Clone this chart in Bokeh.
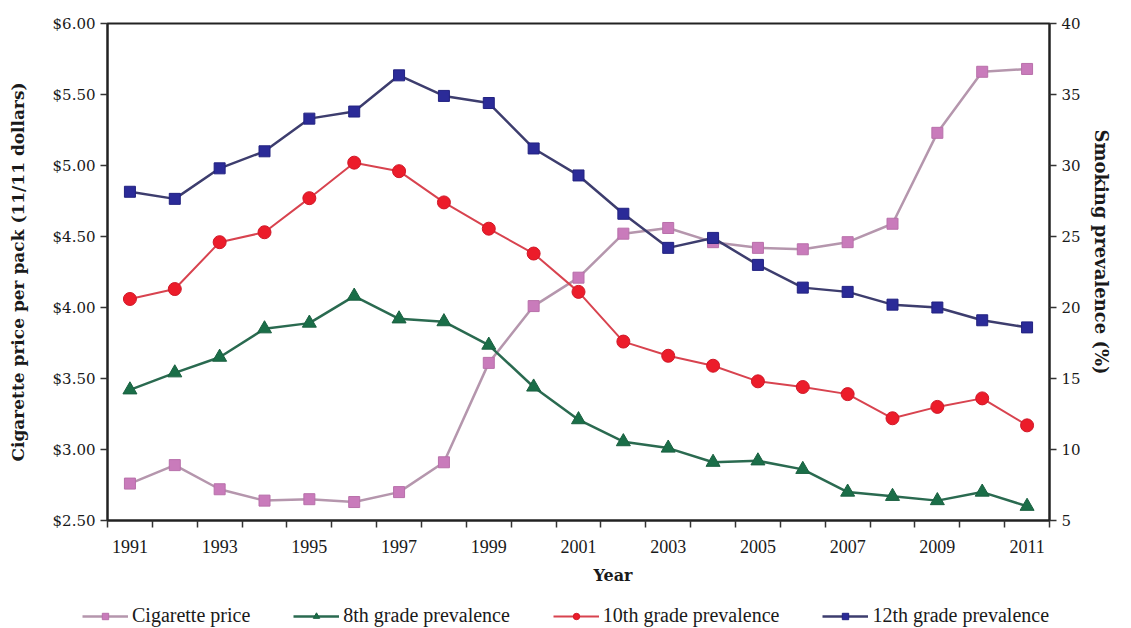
import math
from bokeh.plotting import figure
from bokeh.models import (Range1d, LinearAxis, FixedTicker, NumeralTickFormatter,
                          Legend, LegendItem, Title)
from bokeh.embed import file_html
from bokeh.resources import INLINE

years = list(range(1991, 2012))
price = [2.76, 2.89, 2.72, 2.64, 2.65, 2.63, 2.70, 2.91, 3.61, 4.01, 4.21,
         4.52, 4.56, 4.46, 4.42, 4.41, 4.46, 4.59, 5.23, 5.66, 5.68]
grade8 = [14.2, 15.4, 16.5, 18.5, 18.9, 20.8, 19.2, 19.0, 17.35, 14.4, 12.1,
          10.55, 10.1, 9.1, 9.2, 8.6, 7.0, 6.7, 6.4, 7.0, 6.0]
grade10 = [20.6, 21.3, 24.6, 25.3, 27.7, 30.2, 29.6, 27.4, 25.55, 23.8, 21.1,
           17.6, 16.6, 15.9, 14.8, 14.4, 13.9, 12.2, 13.0, 13.6, 11.7]
grade12 = [28.15, 27.65, 29.8, 31.0, 33.3, 33.8, 36.35, 34.9, 34.4, 31.2, 29.3,
           26.6, 24.2, 24.9, 23.0, 21.4, 21.1, 20.2, 20.0, 19.1, 18.6]
year_ticks = list(range(1991, 2012, 2))
price_ticks = [2.5, 3.0, 3.5, 4.0, 4.5, 5.0, 5.5, 6.0]
prev_ticks = [5, 10, 15, 20, 25, 30, 35, 40]
series_names = ["Cigarette price", "8th grade prevalence",
                "10th grade prevalence", "12th grade prevalence"]

SERIF = "DejaVu Serif"
LEG_FONT = "Liberation Serif"

STYLES = [
    dict(line_color="#b596ad", line_width=2.5, marker="square", size=11,
         fill_color="#c97bbb", mline="#b870aa"),
    dict(line_color="#2a6a50", line_width=2.5, marker="triangle", size=14,
         fill_color="#1a6e48", mline="#1a6040"),
    dict(line_color="#d8434f", line_width=2, marker="circle", size=13,
         fill_color="#ec1c2a", mline="#d01828"),
    dict(line_color="#3d3d6e", line_width=2.5, marker="square", size=11,
         fill_color="#2b2b98", mline="#222280"),
]

W = 1120
p = figure(width=W, height=592, output_backend="svg", toolbar_location=None,
           x_range=Range1d(1990.5, 2011.5), y_range=Range1d(2.5, 6.0),
           min_border_left=107, min_border_right=65, min_border_top=23,
           min_border_bottom=71,
           y_axis_label="Cigarette price per pack (11/11 dollars)")
p.extra_y_ranges = {"prev": Range1d(5, 40)}
p.grid.visible = False
p.outline_line_color = "#222222"
p.outline_line_width = 2

ax = p.xaxis[0]
ax.ticker = FixedTicker(ticks=year_ticks,
                        minor_ticks=[y - 0.5 for y in years] + [2011.5])
ax.major_tick_out = 0
ax.major_tick_in = 0
ax.minor_tick_out = 7
ax.minor_tick_in = 0
ax.minor_tick_line_color = "#333333"
ax.minor_tick_line_width = 1.5

ay = p.yaxis[0]
ay.ticker = FixedTicker(ticks=price_ticks)
ay.formatter = NumeralTickFormatter(format="$0.00")

ry = LinearAxis(y_range_name="prev", ticker=FixedTicker(ticks=prev_ticks))
p.add_layout(ry, "right")

for a in [ax, ay, ry]:
    a.axis_line_color = "#222222"
    a.axis_line_width = 2
    a.major_tick_line_color = "#333333"
    a.major_tick_line_width = 1.5
    a.major_label_text_font = SERIF
    a.major_label_text_font_size = "15px"
    a.major_label_text_color = "#1a1a1a"
    a.axis_label_text_font = SERIF
    a.axis_label_text_font_style = "bold"
    a.axis_label_text_color = "#1a1a1a"
for a in [ay, ry]:
    a.major_tick_out = 7
    a.major_tick_in = 0
ay.axis_label_text_font_size = "17px"
ay.major_label_standoff = 5
ry.major_label_standoff = 5
ay.axis_label_standoff = 22
ax.major_label_text_font = LEG_FONT
ax.major_label_text_font_size = "18px"
ax.major_label_standoff = 12

year_title = Title(text="Year", align="left", offset=486, standoff=16,
                   text_font=SERIF, text_font_style="bold",
                   text_font_size="16px", text_color="#1a1a1a")
p.add_layout(year_title, "below")

right_title = Title(text="Smoking prevalence (%)", align="left", offset=106,
                    standoff=14, text_font=SERIF, text_font_style="bold",
                    text_font_size="18px", text_color="#1a1a1a")
p.add_layout(right_title, "right")

data = [price, grade8, grade10, grade12]
for i, (vals, st) in enumerate(zip(data, STYLES)):
    kw = {} if i == 0 else {"y_range_name": "prev"}
    p.line(years, vals, line_color=st["line_color"], line_width=st["line_width"], **kw)
    p.scatter(years, vals, marker=st["marker"], size=st["size"],
              fill_color=st["fill_color"], line_color=st["mline"], **kw)

# legend strip below the chart (series drawn outside its view, only the legend shows)
leg = figure(width=W, height=36, output_backend="svg", toolbar_location=None,
             x_range=Range1d(0, 1), y_range=Range1d(0, 1),
             x_axis_location=None, y_axis_location=None,
             min_border_left=0, min_border_right=0, min_border_top=0,
             min_border_bottom=0, outline_line_color=None)
leg.grid.visible = False
items = []
for name, vals, st in zip(series_names, data, STYLES):
    lr = leg.line(years, vals, line_color=st["line_color"], line_width=st["line_width"])
    sr = leg.scatter(years, vals, marker=st["marker"], size=st["size"] - 1,
                     fill_color=st["fill_color"], line_color=st["mline"])
    items.append(LegendItem(label=name, renderers=[lr, sr]))
legend = Legend(items=items, orientation="horizontal", location=(82, 1),
                border_line_color=None, background_fill_alpha=0,
                label_text_font=LEG_FONT, label_text_font_size="20px",
                label_text_color="#1a1a1a", glyph_width=46, glyph_height=16,
                spacing=43, label_standoff=4, padding=1, margin=0)
leg.add_layout(legend, "center")

open("out.html", "w").write(file_html([p, leg], INLINE))
